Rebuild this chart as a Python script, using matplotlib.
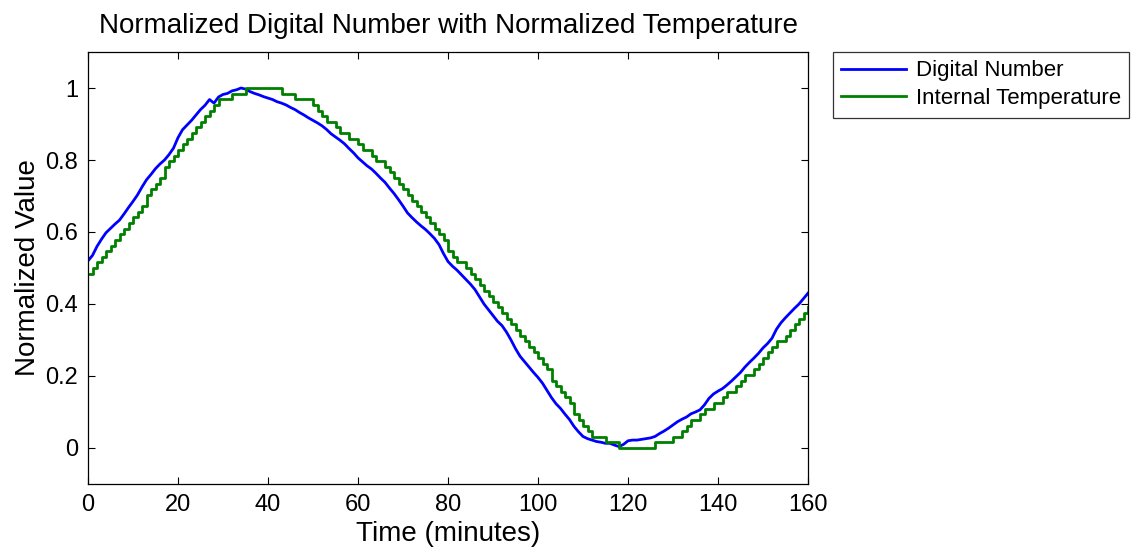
import numpy as np
import matplotlib
matplotlib.use("Agg")
import matplotlib.pyplot as plt

# Time axis (minutes), one sample per minute
time_min = list(range(0, 161))

# Normalized digital number
digital_number = [
    0.520, 0.535, 0.560, 0.580, 0.598, 0.610, 0.622, 0.633, 0.650, 0.668,
    0.685, 0.703, 0.725, 0.745, 0.760, 0.776, 0.789, 0.800, 0.815, 0.833,
    0.862, 0.884, 0.897, 0.910, 0.925, 0.940, 0.952, 0.968, 0.958, 0.975,
    0.982, 0.985, 0.992, 0.995, 1.000, 0.997, 0.990, 0.985, 0.981, 0.976,
    0.972, 0.968, 0.962, 0.958, 0.953, 0.946, 0.940, 0.932, 0.925, 0.917,
    0.910, 0.903, 0.895, 0.885, 0.873, 0.864, 0.855, 0.845, 0.832, 0.820,
    0.806, 0.795, 0.784, 0.775, 0.763, 0.750, 0.738, 0.722, 0.707, 0.690,
    0.672, 0.653, 0.640, 0.628, 0.617, 0.607, 0.595, 0.582, 0.565, 0.540,
    0.518, 0.505, 0.494, 0.481, 0.468, 0.455, 0.440, 0.420, 0.400, 0.384,
    0.368, 0.352, 0.340, 0.322, 0.300, 0.276, 0.255, 0.240, 0.225, 0.210,
    0.196, 0.180, 0.160, 0.140, 0.123, 0.110, 0.094, 0.079, 0.060, 0.045,
    0.032, 0.026, 0.022, 0.018, 0.016, 0.013, 0.013, 0.008, 0.004, 0.010,
    0.020, 0.022, 0.022, 0.024, 0.026, 0.028, 0.032, 0.040, 0.047, 0.055,
    0.064, 0.073, 0.080, 0.086, 0.095, 0.100, 0.106, 0.120, 0.138, 0.150,
    0.158, 0.165, 0.175, 0.186, 0.198, 0.210, 0.225, 0.238, 0.250, 0.263,
    0.278, 0.290, 0.305, 0.330, 0.348, 0.362, 0.375, 0.388, 0.400, 0.415,
    0.430,
]

# Internal temperature in sensor counts (quantized)
temp_counts = [
    31, 32, 33, 34, 35, 36, 37, 38, 39, 40,
    41, 42, 43, 45, 46, 47, 48, 50, 51, 52,
    53, 54, 55, 56, 57, 58, 59, 60, 61, 62,
    62, 62, 63, 63, 63, 64, 64, 64, 64, 64,
    64, 64, 64, 63, 63, 63, 62, 62, 62, 62,
    61, 60, 59, 58, 58, 57, 56, 56, 55, 55,
    54, 53, 53, 52, 51, 51, 50, 49, 48, 47,
    46, 45, 44, 43, 42, 41, 40, 39, 38, 37,
    35, 34, 33, 33, 32, 31, 30, 29, 28, 27,
    26, 25, 24, 23, 22, 21, 20, 19, 18, 17,
    16, 15, 14, 12, 11, 10, 9, 8, 6, 5,
    4, 3, 2, 2, 2, 1, 1, 1, 0, 0,
    0, 0, 0, 0, 0, 0, 1, 1, 1, 1,
    2, 2, 3, 4, 5, 5, 6, 7, 7, 8,
    8, 9, 10, 10, 11, 12, 13, 13, 14, 15,
    16, 17, 18, 19, 19, 20, 21, 22, 23, 24,
    25,
]

x_ticks = [0, 20, 40, 60, 80, 100, 120, 140, 160]
y_ticks = [0, 0.2, 0.4, 0.6, 0.8, 1]
y_tick_labels = ["0", "0.2", "0.4", "0.6", "0.8", "1"]

t = np.array(time_min)
dn = np.array(digital_number)
tc = np.array(temp_counts, dtype=float)
temp_norm = (tc - tc.min()) / (tc.max() - tc.min())

plt.rcParams['font.family'] = ['Liberation Sans', 'DejaVu Sans']

fig = plt.figure(figsize=(11.36, 5.48), dpi=100)
ax = fig.add_axes([88 / 1136, 64 / 548, 720 / 1136, 432 / 548])

ax.plot(t, dn, color='#0000ff', lw=2.0, label='Digital Number')
ax.plot(t, temp_norm, color='#008000', lw=2.0, drawstyle='steps-post',
        label='Internal Temperature')

ax.set_xlim(0, 160)
ax.set_ylim(-0.1, 1.1)
ax.set_xticks(x_ticks)
ax.set_yticks(y_ticks)
ax.set_yticklabels(y_tick_labels)
ax.tick_params(direction='in', length=5, width=0.8, labelsize=17,
               top=True, right=True, pad=7)
for s in ax.spines.values():
    s.set_linewidth(0.9)

ax.set_xlabel('Time (minutes)', fontsize=20, labelpad=4)
ax.set_ylabel('Normalized Value', fontsize=20, labelpad=3)
ax.set_title('Normalized Digital Number with Normalized Temperature',
             fontsize=20, pad=14)

leg = ax.legend(loc='upper left', bbox_to_anchor=(833 / 1136, 496 / 548),
                bbox_transform=fig.transFigure, fontsize=16, frameon=True,
                fancybox=False, edgecolor='black', handlelength=2.9,
                handletextpad=0.45, borderpad=0.38, labelspacing=0.3,
                borderaxespad=0)
leg.get_frame().set_linewidth(0.9)

fig.savefig('out.png', dpi=100)
